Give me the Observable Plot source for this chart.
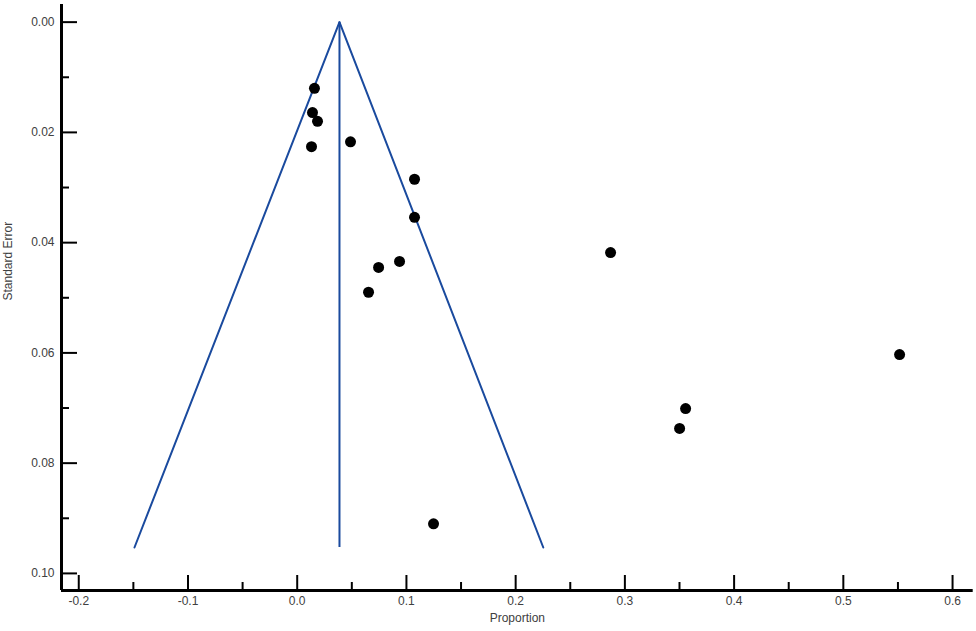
<!DOCTYPE html>
<html>
<head>
<meta charset="utf-8">
<script src="https://cdn.jsdelivr.net/npm/d3@7"></script>
<script src="https://cdn.jsdelivr.net/npm/@observablehq/plot@0.6"></script>
<style>
  html, body { margin: 0; padding: 0; background: #fff; }
  #chart svg { display: block; }
</style>
</head>
<body>
<div id="chart"></div>
<script>
// Study estimates (proportion, standard error)
const proportion = [0.0158, 0.0140, 0.0186, 0.0131, 0.0488, 0.1074, 0.1074, 0.0937, 0.0745, 0.0653, 0.1248, 0.2869, 0.5515, 0.3556, 0.3501];
const stdError   = [0.0120, 0.0164, 0.0180, 0.0226, 0.0217, 0.0285, 0.0354, 0.0434, 0.0445, 0.0490, 0.0910, 0.0418, 0.0603, 0.0701, 0.0737];

// Funnel (pooled estimate and 95% limits)
const pooled = 0.0387;
const funnelX = [-0.149, 0.0387, 0.2253];
const funnelY = [0.0953, 0.0, 0.0953];

// Tick values
const xTicks = [-0.2, -0.1, 0.0, 0.1, 0.2, 0.3, 0.4, 0.5, 0.6];
const xMinorTicks = [-0.15, -0.05, 0.05, 0.15, 0.25, 0.35, 0.45, 0.55];
const yTicks = [0.00, 0.02, 0.04, 0.06, 0.08, 0.10];
const yMinorTicks = [0.01, 0.03, 0.05, 0.07, 0.09];

const xDomain = [-0.2158, 0.6189];
const yDomain = [-0.0032, 0.1031];

const W = 976, H = 631;
const mL = 61, mR = 3.3, mT = 4, mB = 41;
const pxX = (W - mL - mR) / (xDomain[1] - xDomain[0]);
const pxY = (H - mT - mB) / (yDomain[1] - yDomain[0]);

const points = proportion.map((p, i) => ({p, se: stdError[i]}));
const funnel = funnelX.map((x, i) => ({x, y: funnelY[i]}));

const blue = "#1a4a9e";
const ink = "#404040";

const chart = Plot.plot({
  width: W,
  height: H,
  marginLeft: mL,
  marginRight: mR,
  marginTop: mT,
  marginBottom: mB,
  style: {fontFamily: "'Liberation Sans', Arial, sans-serif", fontSize: "12px", color: ink, background: "#fff"},
  x: {domain: xDomain},
  y: {domain: yDomain, reverse: true},
  marks: [
    // funnel
    Plot.line(funnel, {x: "x", y: "y", stroke: blue, strokeWidth: 2}),
    Plot.ruleX([pooled], {x: d => d, y1: 0, y2: funnelY[0], stroke: blue, strokeWidth: 2}),
    // points
    Plot.dot(points, {x: "p", y: "se", r: 5.5, fill: "black", stroke: "none"}),
    // y ticks (inward)
    Plot.ruleY(yTicks, {y: d => d, x1: xDomain[0], x2: xDomain[0] + 16 / pxX, stroke: "black", strokeWidth: 2}),
    Plot.ruleY(yMinorTicks, {y: d => d, x1: xDomain[0], x2: xDomain[0] + 8 / pxX, stroke: "black", strokeWidth: 2}),
    // x ticks (inward)
    Plot.ruleX(xTicks, {x: d => d, y1: yDomain[1], y2: yDomain[1] - 15 / pxY, stroke: "black", strokeWidth: 2}),
    Plot.ruleX(xMinorTicks, {x: d => d, y1: yDomain[1], y2: yDomain[1] - 8 / pxY, stroke: "black", strokeWidth: 2}),
    // axis lines
    Plot.ruleX([xDomain[0]], {stroke: "black", strokeWidth: 3}),
    Plot.ruleY([yDomain[1]], {stroke: "black", strokeWidth: 3}),
    // tick labels
    Plot.axisY(yTicks, {tickSize: 0, tickPadding: 7, tickFormat: d => d.toFixed(2), label: null, fill: ink}),
    Plot.axisX(xTicks, {tickSize: 0, tickPadding: 6, tickFormat: d => d.toFixed(1), label: null, fill: ink}),
    // axis titles
    Plot.text(["Proportion"], {frameAnchor: "bottom", dy: 31, fill: ink, fontSize: 12}),
    Plot.text(["Standard Error"], {frameAnchor: "left", dx: -53, dy: 3, rotate: -90, fill: ink, fontSize: 12})
  ]
});

document.getElementById("chart").appendChild(chart);
</script>
</body>
</html>
